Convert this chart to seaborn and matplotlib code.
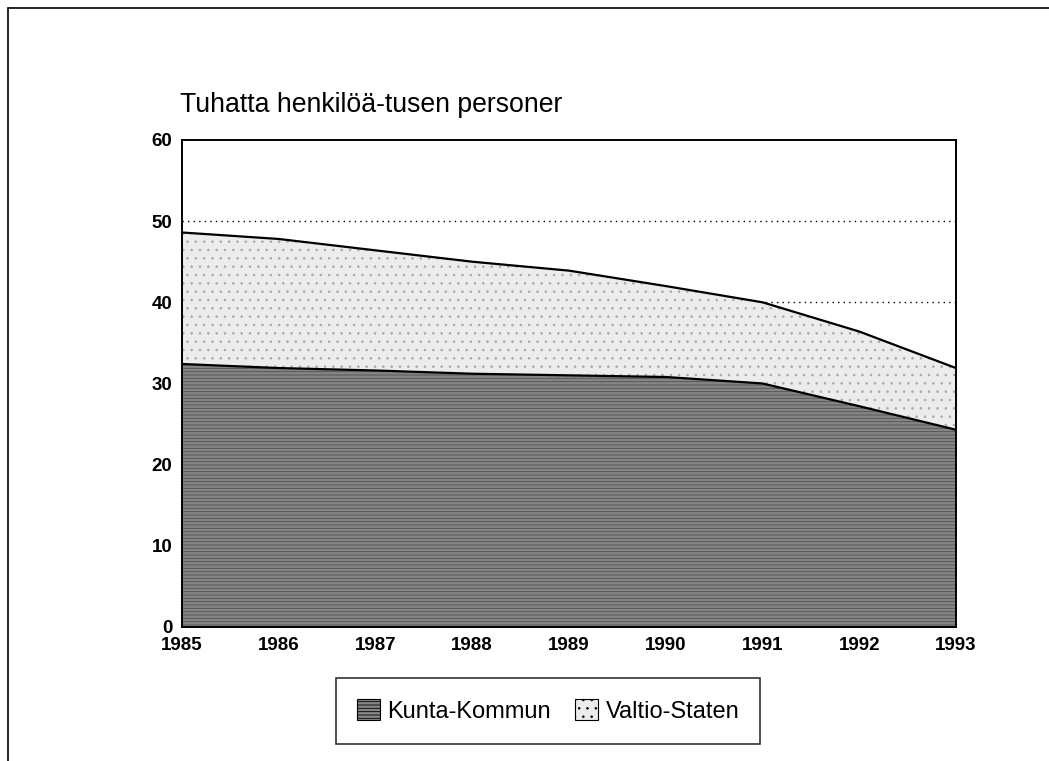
import matplotlib
matplotlib.use("Agg")
import matplotlib.pyplot as plt
from matplotlib.lines import Line2D
from matplotlib.patches import Patch
import seaborn as sns
import pandas as pd

years = [1985, 1986, 1987, 1988, 1989, 1990, 1991, 1992, 1993]
kunta = [32.4, 31.9, 31.6, 31.2, 31.0, 30.8, 30.0, 27.2, 24.3]
total = [48.6, 47.8, 46.4, 45.0, 43.9, 42.0, 40.0, 36.4, 31.9]
valtio = [t - k for t, k in zip(total, kunta)]
series_labels = ["Kunta-Kommun", "Valtio-Staten"]
title_text = "Tuhatta henkilöä-tusen personer"
yticks = [0, 10, 20, 30, 40, 50, 60]

sns.set_style("white")
plt.rcParams["font.family"] = ["Liberation Sans", "DejaVu Sans"]
plt.rcParams["hatch.linewidth"] = 0.6
plt.rcParams["text.color"] = "black"
plt.rcParams["xtick.color"] = "black"
plt.rcParams["ytick.color"] = "black"

df = pd.DataFrame({"year": years, "kunta": kunta, "valtio": valtio})
df["top"] = df["kunta"] + df["valtio"]

fig = plt.figure(figsize=(10.49, 7.61), dpi=100)
ax = fig.add_axes([0.1735, 0.1761, 0.7378, 0.640])

for y in [10, 20, 30, 40, 50]:
    ax.axhline(y, color="black", linestyle=(0, (1, 3)), linewidth=1.0, zorder=0)

kunta_color = "#858585"
valtio_color = "#ececec"
ax.fill_between(df["year"], 0, df["kunta"], facecolor=kunta_color,
                edgecolor="#505050", hatch="-----", linewidth=0, zorder=1)
ax.fill_between(df["year"], df["kunta"], df["top"], facecolor=valtio_color,
                edgecolor="#a8a8a8", hatch="..", linewidth=0, zorder=1)
sns.lineplot(x="year", y="kunta", data=df, color="black", linewidth=1.6, ax=ax, zorder=2)
sns.lineplot(x="year", y="top", data=df, color="black", linewidth=1.6, ax=ax, zorder=2)

ax.set_xlim(1985, 1993)
ax.set_ylim(0, 60)
ax.set_xticks(years)
ax.set_xticklabels([str(y) for y in years], fontsize=13.5, fontweight="bold", color="black")
ax.set_yticks(yticks)
ax.set_yticklabels([str(y) for y in yticks], fontsize=13.5, fontweight="bold", color="black")
ax.set_xlabel("")
ax.set_ylabel("")
ax.tick_params(axis="x", length=0, pad=7)
ax.tick_params(axis="y", length=0, pad=7)
for s in ax.spines.values():
    s.set_color("black")
    s.set_linewidth(1.4)
    s.set_visible(True)

fig.text(180 / 1049, 1 - 105 / 761, title_text, fontsize=19.2, ha="left", va="center", color="black")

handles = [
    Patch(facecolor=kunta_color, edgecolor="black", hatch="-----", linewidth=0.8),
    Patch(facecolor=valtio_color, edgecolor="black", hatch="..", linewidth=0.8),
]
leg = fig.legend(handles, series_labels, loc="center", bbox_to_anchor=(548 / 1049, 1 - 711 / 761),
                 ncol=2, fontsize=17, frameon=True, fancybox=False, edgecolor="black",
                 handlelength=1.0, handleheight=1.0, handletextpad=0.3, columnspacing=1.0,
                 borderpad=0.9, borderaxespad=0)
for t in leg.get_texts():
    t.set_color("black")
leg.get_frame().set_linewidth(1.2)

fig.add_artist(Line2D([8 / 1049, 8 / 1049], [0, 1 - 8 / 761], color="black", linewidth=1.2,
                      transform=fig.transFigure))
fig.add_artist(Line2D([8 / 1049, 1], [1 - 8 / 761, 1 - 8 / 761], color="black", linewidth=1.2,
                      transform=fig.transFigure))

fig.savefig("out.png", dpi=100)
